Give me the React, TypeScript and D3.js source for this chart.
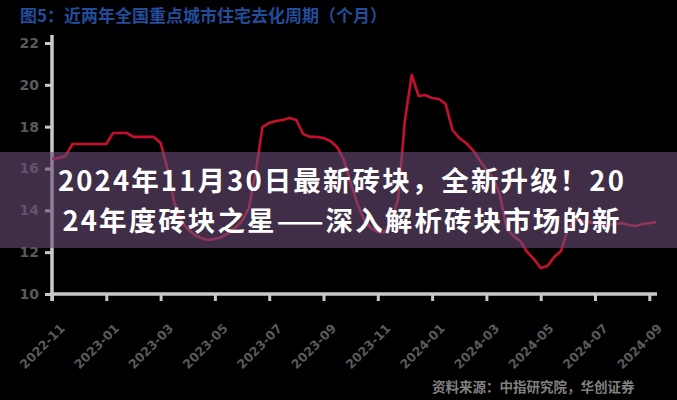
import { useEffect, useRef } from 'react';
import * as d3 from 'd3';

const W = 677;
const H = 400;

const TITLE = '图5：近两年全国重点城市住宅去化周期（个月）';
const SOURCE = '资料来源：中指研究院，华创证券';
const BANNER_LINES = [
  '2024年11月30日最新砖块，全新升级！20',
  '24年度砖块之星——深入解析砖块市场的新',
];

// tick labels
const xLabels = [
  '2022-11', '2023-01', '2023-03', '2023-05', '2023-07', '2023-09',
  '2023-11', '2024-01', '2024-03', '2024-05', '2024-07', '2024-09',
];
const yTicks = [10, 12, 14, 16, 18, 20, 22];

// weekly-ish series, 8 points per label interval
const values = [
  16.45, 16.5, 16.6, 17.17, 17.17, 17.17, 17.17, 17.17, 17.17, 17.7,
  17.7, 17.7, 17.51, 17.51, 17.51, 17.51, 17.22, 16.02, 14.4, 13.49,
  13.11, 12.82, 12.68, 12.58, 12.63, 12.72, 12.92, 13.16, 13.49, 14.11,
  15.78, 17.98, 18.18, 18.27, 18.32, 18.41, 18.32, 17.65, 17.51, 17.51,
  17.46, 17.31, 17.03, 16.41, 15.31, 14.3, 13.54, 13.16, 12.96, 12.96,
  13.49, 14.54, 18.32, 20.47, 19.47, 19.51, 19.37, 19.32, 19.08, 17.84,
  17.46, 17.22, 16.88, 16.41, 15.93, 15.55, 14.73, 13.11, 12.77, 12.53,
  12.01, 11.67, 11.24, 11.34, 11.77, 12.06, 13.11, 13.54, 13.49, 13.44,
  13.39, 13.35, 13.3, 13.35, 13.39, 13.3, 13.25, 13.35, 13.39, 13.44,
];
const STEP = 8;

const CJK = '"Noto Sans CJK SC", "DejaVu Sans", sans-serif';

export default function App() {
  const svgRef = useRef<SVGSVGElement>(null);

  useEffect(() => {
    if (!svgRef.current) return;
    const svg = d3.select(svgRef.current);
    svg.selectAll('*').remove();

    const x = d3
      .scaleLinear()
      .domain([0, (xLabels.length - 1) * STEP])
      .range([52, 649.3]);
    const y = d3.scaleLinear().domain([10, 22]).range([294, 43]);

    svg.append('rect').attr('width', W).attr('height', H).attr('fill', '#000');

    // title
    svg
      .append('text')
      .attr('x', 20)
      .attr('y', 22)
      .attr('fill', '#224d9a')
      .attr('font-family', CJK)
      .attr('font-weight', 'bold')
      .attr('font-size', 17)
      .text(TITLE);

    const axisColor = '#c8c8c8';

    // y axis
    const yAxis = svg
      .append('g')
      .attr('transform', 'translate(52,0)')
      .call(
        d3
          .axisLeft(y)
          .tickValues(yTicks)
          .tickSize(7)
          .tickSizeOuter(0)
          .tickPadding(6)
          .tickFormat(d3.format('d'))
      );
    yAxis.select('.domain').remove();
    yAxis.selectAll('line').attr('stroke', axisColor).attr('stroke-width', 3);
    yAxis
      .selectAll('text')
      .attr('fill', '#5a5a5a')
      .attr('font-family', '"DejaVu Sans", sans-serif')
      .attr('font-weight', 'bold')
      .attr('font-size', 14);

    // x axis
    const xAxis = svg
      .append('g')
      .attr('transform', 'translate(0,294)')
      .call(
        d3
          .axisBottom(x)
          .tickValues(xLabels.map((_, i) => i * STEP))
          .tickSize(7)
          .tickSizeOuter(0)
          .tickFormat((_, i) => xLabels[i])
      );
    xAxis.select('.domain').remove();
    xAxis.selectAll('line').attr('stroke', axisColor).attr('stroke-width', 3);
    xAxis
      .selectAll('text')
      .attr('fill', '#5a5a5a')
      .attr('font-family', '"DejaVu Sans", sans-serif')
      .attr('font-weight', 'bold')
      .attr('font-size', 12.5)
      .attr('text-anchor', 'end')
      .attr('dy', '0.35em')
      .attr('transform', 'translate(3,25) rotate(-45)');

    // axis lines
    svg
      .append('line')
      .attr('x1', 52)
      .attr('x2', 52)
      .attr('y1', y(22) - 8)
      .attr('y2', y(10) + 7)
      .attr('stroke', axisColor)
      .attr('stroke-width', 3.5);
    svg
      .append('line')
      .attr('x1', 50)
      .attr('x2', 657)
      .attr('y1', y(10))
      .attr('y2', y(10))
      .attr('stroke', axisColor)
      .attr('stroke-width', 3.5);

    // series
    const line = d3
      .line<number>()
      .x((_, i) => x(i))
      .y((d) => y(d));
    svg
      .append('path')
      .datum(values)
      .attr('d', line)
      .attr('fill', 'none')
      .attr('stroke', '#c8102e')
      .attr('stroke-width', 2.6)
      .attr('stroke-linejoin', 'round');

    // source
    svg
      .append('text')
      .attr('x', 432)
      .attr('y', 392)
      .attr('fill', '#808080')
      .attr('font-family', CJK)
      .attr('font-weight', 'bold')
      .attr('font-size', 13.5)
      .text(SOURCE);

    // overlay banner
    svg
      .append('rect')
      .attr('x', 0)
      .attr('y', 152)
      .attr('width', W)
      .attr('height', 96)
      .attr('fill', 'rgba(107,76,120,0.6)');

    svg
      .selectAll('text.banner')
      .data(BANNER_LINES)
      .join('text')
      .attr('class', 'banner')
      .attr('x', 342)
      .attr('y', (_, i) => 191 + i * 40)
      .attr('text-anchor', 'middle')
      .attr('fill', '#fff')
      .attr('font-family', CJK)
      .attr('font-weight', 'bold')
      .attr('font-size', 27.5)
      .attr('letter-spacing', 2.1)
      .text((d) => d);
  }, []);

  return (
    <svg
      ref={svgRef}
      width={W}
      height={H}
      style={{ position: 'fixed', left: 0, top: 0, display: 'block' }}
    />
  );
}
